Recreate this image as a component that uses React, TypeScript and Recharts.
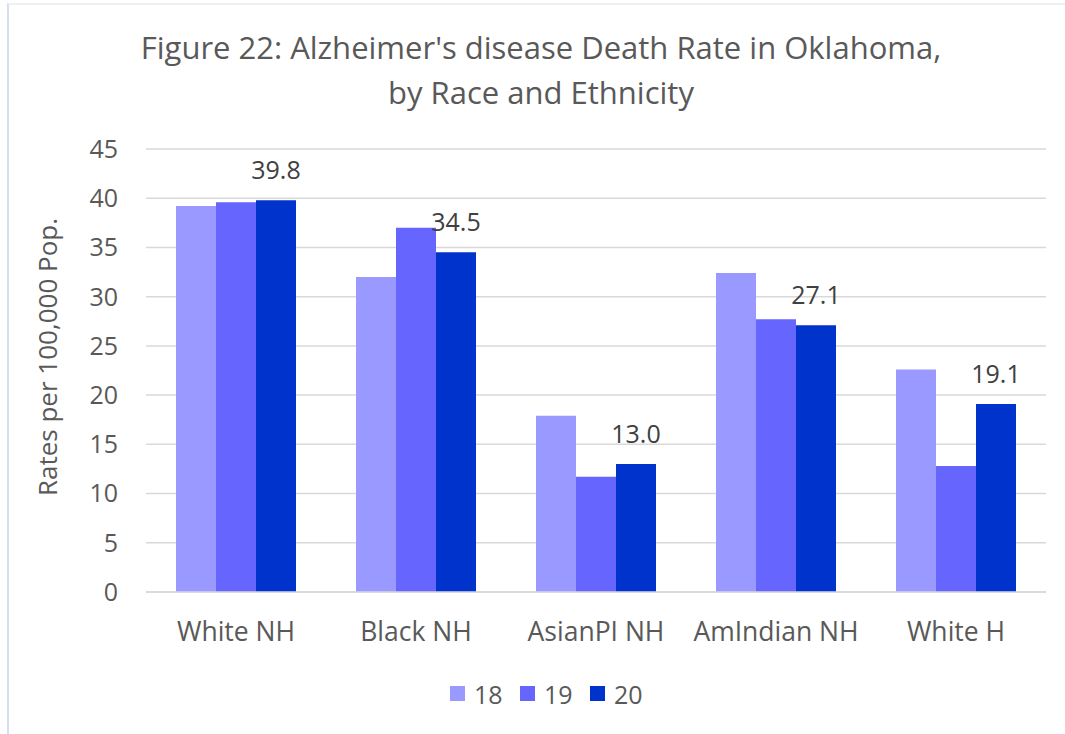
import { Bar, BarChart, CartesianGrid, LabelList, XAxis, YAxis } from "recharts";

const categories = ["White NH", "Black NH", "AsianPI NH", "AmIndian NH", "White H"];
const rates18 = [39.2, 32.0, 17.9, 32.4, 22.6];
const rates19 = [39.6, 37.0, 11.7, 27.7, 12.8];
const rates20 = [39.8, 34.5, 13.0, 27.1, 19.1];
const yTicks = [0, 5, 10, 15, 20, 25, 30, 35, 40, 45];

const series = [
  { key: "y18", name: "18", color: "#9999FF", values: rates18 },
  { key: "y19", name: "19", color: "#6666FF", values: rates19 },
  { key: "y20", name: "20", color: "#0033CC", values: rates20 },
];

const chartData = categories.map((name, i) => {
  const row: any = { name };
  series.forEach((s) => {
    row[s.key] = s.values[i];
  });
  return row;
});

const FONT = "'Open Sans', sans-serif";
const TEXT_GREY = "#595959";

// y axis title, drawn rotated at the left edge
const YTitle = () => (
  <text
    x={47}
    y={357}
    transform="rotate(-90 47 357)"
    textAnchor="middle"
    dominantBaseline="central"
    fill={TEXT_GREY}
    fontSize={26}
    fontFamily={FONT}
  >
    Rates per 100,000 Pop.
  </text>
);

const Overlay = () => {
  const legendStart = 450;
  const legendStep = 70;
  return (
    <svg width={1065} height={734} style={{ position: "absolute", left: 0, top: 0, pointerEvents: "none" }}>
      <text x={541} y={59} textAnchor="middle" fill={TEXT_GREY} fontSize={31} fontFamily={FONT}>
        Figure 22: Alzheimer's disease Death Rate in Oklahoma,
      </text>
      <text x={541} y={104} textAnchor="middle" fill={TEXT_GREY} fontSize={31} fontFamily={FONT}>
        by Race and Ethnicity
      </text>
      {series.map((s, i) => (
        <g key={s.key} transform={`translate(${legendStart + i * legendStep},686)`}>
          <rect x={0} y={0} width={15} height={15} fill={s.color} />
          <text x={24} y={8} dominantBaseline="central" fill={TEXT_GREY} fontSize={25} fontFamily={FONT}>
            {s.name}
          </text>
        </g>
      ))}
    </svg>
  );
};

const App = () => (
  <div
    style={{
      position: "absolute",
      left: 0,
      top: 0,
      width: 1065,
      height: 734,
      background: "#fff",
      fontFamily: FONT,
    }}
  >
    <div
      style={{
        position: "absolute",
        left: 7,
        top: 3,
        right: 0,
        bottom: 0,
        borderLeft: "2px solid #d6ddef",
        borderTop: "2px solid #eef0f6",
      }}
    />
    <BarChart
      width={1065}
      height={734}
      data={chartData}
      margin={{ top: 149, right: 19, bottom: 112, left: 0 }}
      barCategoryGap={30}
      barGap={0}
    >
      <CartesianGrid vertical={false} stroke="#d9d9d9" strokeWidth={1.5} />
      <XAxis
        dataKey="name"
        height={30}
        tickLine={false}
        axisLine={{ stroke: "#d9d9d9", strokeWidth: 1.5 }}
        tick={{ fill: TEXT_GREY, fontSize: 26.5, fontFamily: FONT }}
        tickMargin={24}
        interval={0}
      />
      <YAxis
        width={146}
        domain={[0, 45]}
        ticks={yTicks}
        interval={0}
        tickLine={false}
        axisLine={false}
        tick={{ fill: TEXT_GREY, fontSize: 25, fontFamily: FONT }}
        tickMargin={22}
        label={{ content: () => <YTitle /> }}
      />
      {series.map((s) => (
        <Bar key={s.key} dataKey={s.key} name={s.name} fill={s.color} isAnimationActive={false}>
          {s.key === "y20" && (
            <LabelList
              dataKey={s.key}
              position="top"
              offset={21}
              fill="#404040"
              fontSize={25}
              fontFamily={FONT}
              formatter={(v: any) => Number(v).toFixed(1)}
            />
          )}
        </Bar>
      ))}
    </BarChart>
    <Overlay />
  </div>
);

export default App;
